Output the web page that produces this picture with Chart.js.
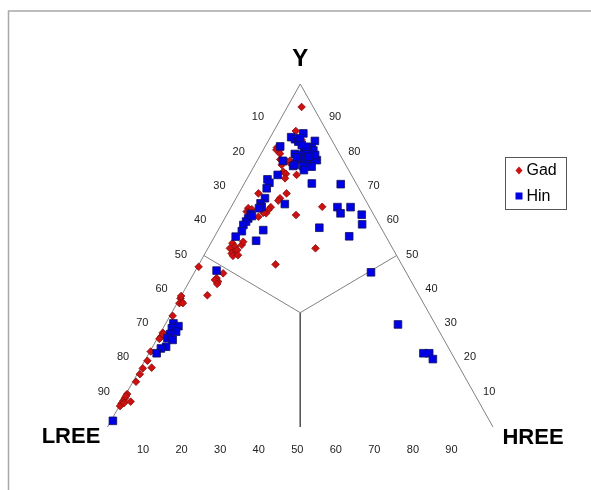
<!DOCTYPE html>
<html>
<head>
<meta charset="utf-8">
<script src="https://cdn.jsdelivr.net/npm/chart.js@4.4.1/dist/chart.umd.min.js"></script>
<style>
html,body{margin:0;padding:0;background:#fff;}
canvas{display:block;}
</style>
</head>
<body>
<canvas id="c" width="591" height="490"></canvas>
<script>
// Ternary compositions (percent): Y and HREE; LREE = 100 - Y - HREE
const gadY = [93.3,86.3,83.7,81.5,80.6,80.8,79.7,78.0,77.4,77.6,77.3,77.8,76.4,76.4,74.4,73.8,72.5,73.5,68.1,68.1,66.7,66.0,63.8,63.5,62.8,62.3,64.1,63.3,62.3,62.5,61.3,64.2,61.8,53.6,52.6,52.1,51.1,50.6,51.6,53.1,54.0,49.9,50.1,52.1,47.4,46.7,44.8,43.4,42.4,42.9,41.7,38.4,37.5,36.5,36.1,36.1,38.2,32.4,27.5,26.3,25.7,27.1,22.0,19.3,17.1,17.3,15.4,13.2,9.6,8.4,7.7,6.9,6.1,7.4,9.0,7.0];
const gadHREE = [3.7,5.7,8.5,3.2,4.2,3.4,4.9,5.8,7.8,8.5,10.4,10.6,7.0,9.6,8.4,9.4,9.8,12.3,5.1,12.4,11.4,11.3,4.6,5.7,4.7,6.0,10.3,10.1,10.0,9.2,8.5,23.6,18.0,5.6,6.8,5.7,7.3,6.9,7.9,8.3,8.2,7.6,8.8,27.9,19.9,0.3,7.6,6.6,7.5,6.4,7.6,6.7,0.2,1.0,0.6,1.5,0.0,0.7,0.6,0.7,0.6,0.9,0.2,0.7,0.6,2.8,0.7,0.8,0.3,0.3,0.3,0.2,0.2,2.3,0.3,0.8];
const hinY = [85.6,84.5,83.9,83.2,84.2,83.4,81.8,81.5,80.8,80.6,80.3,81.7,82.2,79.6,79.3,78.6,77.8,77.8,78.0,76.9,79.3,78.8,77.6,76.1,76.1,74.9,75.9,76.4,71.0,70.8,72.2,71.2,69.6,73.5,66.7,65.2,64.2,63.8,65.0,62.1,60.8,59.9,58.9,57.1,55.5,61.5,57.4,54.3,64.1,62.3,64.1,61.9,59.1,58.1,55.6,45.1,45.6,29.9,21.5,21.5,19.8,30.2,29.4,28.8,27.8,27.1,25.9,25.4,23.4,22.9,21.5,1.8];
const hinHREE = [8.0,5.4,6.7,7.9,7.8,12.1,3.9,12.2,11.4,13.1,10.8,10.8,9.3,8.8,10.1,9.8,15.4,13.6,12.0,13.2,14.2,12.7,6.7,10.1,12.7,13.5,15.0,10.4,17.5,25.1,5.4,6.4,6.5,7.4,7.5,7.1,7.9,7.4,13.5,6.1,6.1,6.0,5.8,6.3,5.5,6.7,11.7,11.4,27.6,29.3,31.0,35.0,36.5,25.9,34.9,45.8,5.5,60.4,71.2,72.7,74.5,2.0,3.7,2.3,3.9,2.7,2.6,4.2,3.5,2.4,2.0,0.5];
const seriesNames = ["Gad", "Hin"];
const tickValues = [10,20,30,40,50,60,70,80,90];
const cornerLabels = ["Y", "LREE", "HREE"];

function toXY(yArr, hArr) {
  return yArr.map((a, i) => ({ x: hArr[i] + a / 2, y: a }));
}

const lineStyle = { type: 'line', showLine: true, pointRadius: 0, borderColor: '#808080', borderWidth: 1, fill: false, clip: false, tension: 0, order: 5 };

const deco = {
  id: 'deco',
  beforeDraw(chart) {
    const ctx = chart.ctx;
    ctx.save();
    ctx.strokeStyle = '#a8a8a8';
    ctx.lineWidth = 1.5;
    ctx.beginPath();
    ctx.moveTo(8.5, 490);
    ctx.lineTo(8.5, 11);
    ctx.lineTo(591, 11);
    ctx.stroke();
    ctx.restore();
  },
  afterDraw(chart) {
    const ctx = chart.ctx;
    const xs = chart.scales.x, ys = chart.scales.y;
    const px = v => xs.getPixelForValue(v), py = v => ys.getPixelForValue(v);
    ctx.save();
    ctx.fillStyle = '#222';
    ctx.font = '11px Arial, "Liberation Sans", sans-serif';
    ctx.textAlign = 'center';
    ctx.textBaseline = 'middle';
    tickValues.forEach(v => {
      ctx.fillText(String(v), px(50 - v / 2) - 23, py(100 - v) - 1);
      ctx.fillText(String(v), px(100 - v / 2) + 15.5, py(v) - 1);
      ctx.fillText(String(v), px(v) - 3, py(0) + 22.5);
    });
    ctx.fillStyle = '#000';
    ctx.font = 'bold 24px Arial, "Liberation Sans", sans-serif';
    ctx.fillText(cornerLabels[0], px(50), py(100) - 25);
    ctx.font = 'bold 22px Arial, "Liberation Sans", sans-serif';
    ctx.fillText(cornerLabels[1], px(0) - 36.5, py(0) + 10);
    ctx.fillText(cornerLabels[2], px(100) + 40, py(0) + 11);

    // legend
    ctx.strokeStyle = '#555';
    ctx.lineWidth = 1;
    ctx.strokeRect(505.5, 157.5, 61, 52);
    ctx.font = '16px Arial, "Liberation Sans", sans-serif';
    ctx.textAlign = 'left';
    ctx.fillStyle = '#000';
    ctx.fillText(seriesNames[0], 526.5, 171);
    ctx.fillText(seriesNames[1], 526.5, 197);
    ctx.fillStyle = '#cc1111';
    ctx.beginPath();
    ctx.moveTo(519, 166.5); ctx.lineTo(522.5, 170.5); ctx.lineTo(519, 174.5); ctx.lineTo(515.5, 170.5);
    ctx.closePath(); ctx.fill();
    ctx.fillStyle = '#0000e6';
    ctx.fillRect(515.5, 192.5, 7, 7);
    ctx.restore();
  }
};

new Chart(document.getElementById('c'), {
  type: 'scatter',
  data: {
    datasets: [
      { ...lineStyle, data: [{x:0,y:0},{x:50,y:100},{x:100,y:0}] },
      { ...lineStyle, data: [{x:25,y:50},{x:50,y:100/3},{x:75,y:50}] },
      { ...lineStyle, borderColor: '#555', data: [{x:50,y:100/3},{x:50,y:0}] },
      { label: seriesNames[0], data: toXY(gadY, gadHREE), pointStyle: 'rectRot', pointRadius: 3.8,
        backgroundColor: '#cc1111', borderColor: '#8a0c0c', borderWidth: 0.8, clip: false, order: 2 },
      { label: seriesNames[1], data: toXY(hinY, hinHREE), pointStyle: 'rect', pointRadius: 5.4,
        backgroundColor: '#0000e6', borderColor: '#101060', borderWidth: 0.8, clip: false, order: 1 }
    ]
  },
  options: {
    responsive: false,
    animation: false,
    devicePixelRatio: 1,
    layout: { padding: { left: 107.5, right: 98, top: 84, bottom: 63 } },
    scales: {
      x: { type: 'linear', min: 0, max: 100, display: false },
      y: { type: 'linear', min: 0, max: 100, display: false }
    },
    plugins: { legend: { display: false }, tooltip: { enabled: false } }
  },
  plugins: [deco]
});
</script>
</body>
</html>
